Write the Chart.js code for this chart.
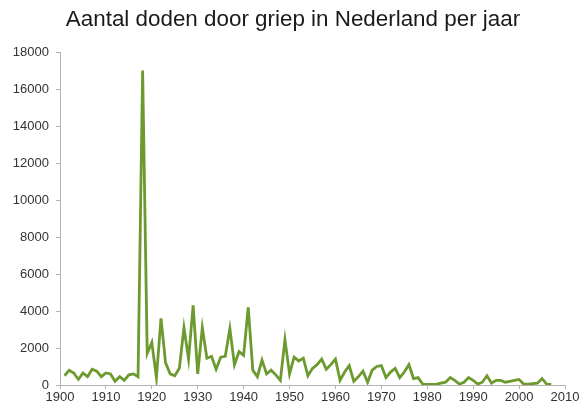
<!DOCTYPE html>
<html>
<head>
<meta charset="utf-8">
<script src="https://cdn.jsdelivr.net/npm/chart.js@4"></script>
<style>
  html, body { margin: 0; padding: 0; background: #fff; }
  #wrap  { position: relative; width: 586px; height: 410px; }
  #title {
    position: absolute; left: 0; top: 6px; width: 586px;
    text-align: center; line-height: 26px;
    font: 22.4px Arial, "Liberation Sans", sans-serif; color: #1a1a1a;
  }
  canvas { position: absolute; left: 0; top: 0; }
</style>
</head>
<body>
<div id="wrap">
  <canvas id="flu-chart" width="586" height="410"></canvas>
  <div id="title"></div>
</div>
<script>
/* Aantal doden door griep in Nederland per jaar */

const chartTitle = 'Aantal doden door griep in Nederland per jaar';
const firstYear  = 1901;

// deaths per year, 1901 .. 2007
const deaths = [
  500, 800, 650, 300, 650, 450, 850, 750, 450, 650,          // 1901-1910
  600, 200, 450, 250, 550, 600, 450, 17000, 1700, 2300,      // 1911-1920
  400, 3600, 1200, 600, 500, 900, 3100, 1400, 4300, 600,     // 1921-1930
  3100, 1450, 1550, 850, 1500, 1550, 3050, 1100, 1800, 1600, // 1931-1940
  4200, 800, 450, 1350, 600, 800, 550, 250, 2450, 600,       // 1941-1950
  1500, 1300, 1450, 500, 900, 1100, 1400, 850, 1100, 1400,   // 1951-1960
  250, 700, 1050, 200, 450, 750, 150, 800, 1000, 1050,       // 1961-1970
  400, 700, 900, 400, 700, 1100, 350, 400, 50, 30,           // 1971-1980
  30, 50, 100, 150, 400, 250, 50, 150, 400, 250,             // 1981-1990
  50, 150, 500, 100, 250, 250, 150, 200, 250, 300,           // 1991-2000
  50, 50, 80, 100, 350, 50, 30,                              // 2001-2007
];

const xTicks = [1900, 1910, 1920, 1930, 1940, 1950, 1960, 1970, 1980, 1990, 2000, 2010];
const yTicks = [0, 2000, 4000, 6000, 8000, 10000, 12000, 14000, 16000, 18000];

document.getElementById('title').textContent = chartTitle;

const points = deaths.map((v, i) => ({ x: firstYear + i, y: v }));

const tickFont  = { family: 'Arial, "Liberation Sans", sans-serif', size: 13 };
const axisColor = '#b3b3b3';

new Chart(document.getElementById('flu-chart'), {
  type: 'line',
  data: {
    datasets: [{
      data:        points,
      borderColor: '#6d9a2e',
      borderWidth: 2.8,
      pointRadius: 0,
      tension:     0,
      fill:        false,
    }],
  },
  options: {
    responsive: false,
    animation:  false,
    layout: { padding: { left: 0, right: 21, top: 52, bottom: 0 } },
    plugins: {
      legend:  { display: false },
      tooltip: { enabled: false },
      title:   { display: false },
    },
    scales: {
      x: {
        type: 'linear',
        min:  xTicks[0],
        max:  xTicks[xTicks.length - 1],
        afterBuildTicks: s => { s.ticks = xTicks.map(v => ({ value: v })); },
        afterFit: s => { s.height = 25; },
        ticks: { color: '#333', font: tickFont, padding: 1, maxRotation: 0, callback: v => String(v) },
        grid:  { drawOnChartArea: false, drawTicks: true, tickLength: 4, color: axisColor },
        border: { color: axisColor, width: 1 },
      },
      y: {
        min: yTicks[0],
        max: yTicks[yTicks.length - 1],
        afterBuildTicks: s => { s.ticks = yTicks.map(v => ({ value: v })); },
        afterFit: s => { s.width = 60; },
        ticks: { color: '#333', font: tickFont, padding: 7, callback: v => String(v) },
        grid:  { drawOnChartArea: false, drawTicks: true, tickLength: 4, color: axisColor },
        border: { color: axisColor, width: 1 },
      },
    },
  },
});
</script>
</body>
</html>
